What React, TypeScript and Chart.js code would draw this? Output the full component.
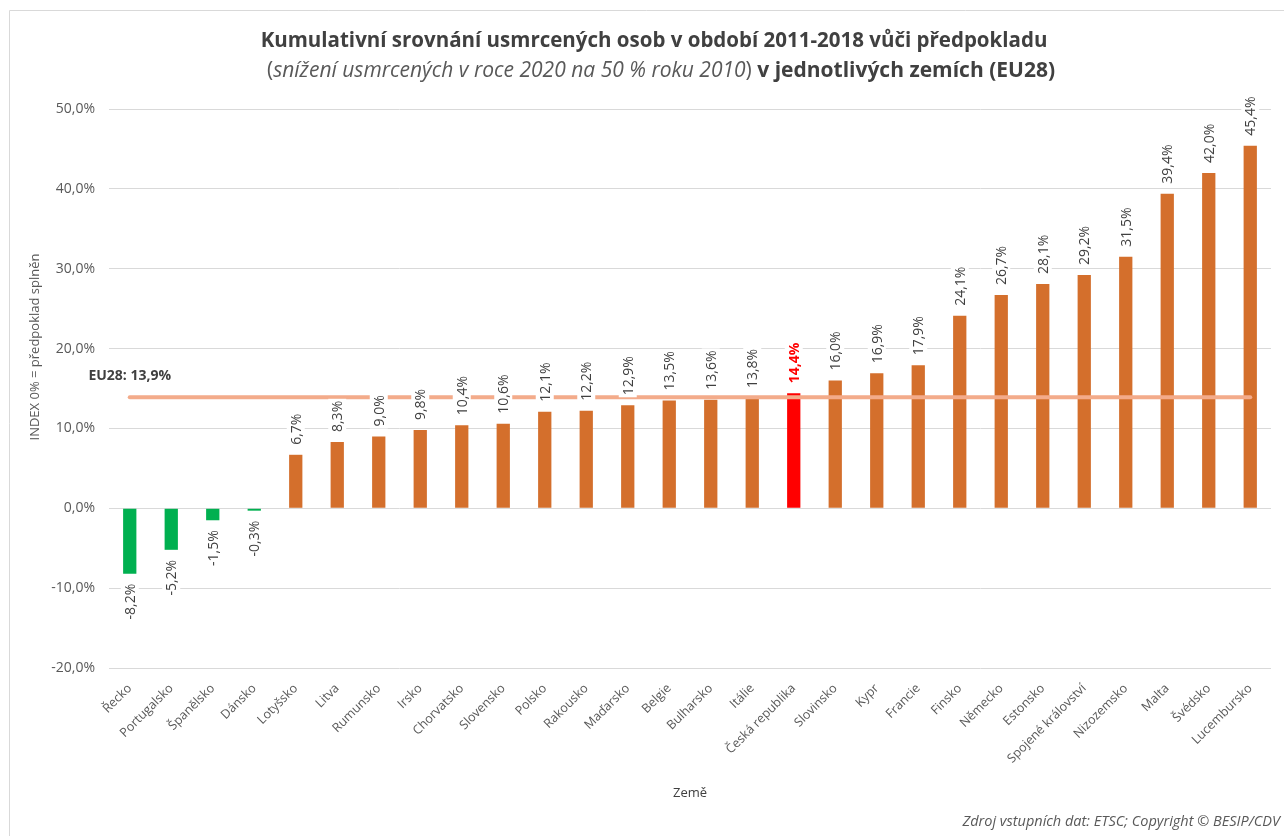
import React, { useEffect, useRef } from "react";
import { Chart, registerables } from "chart.js";

Chart.register(...registerables);

const categories = [
  "Řecko", "Portugalsko", "Španělsko", "Dánsko", "Lotyšsko", "Litva", "Rumunsko",
  "Irsko", "Chorvatsko", "Slovensko", "Polsko", "Rakousko", "Maďarsko", "Belgie",
  "Bulharsko", "Itálie", "Česká republika", "Slovinsko", "Kypr", "Francie", "Finsko",
  "Německo", "Estonsko", "Spojené království", "Nizozemsko", "Malta", "Švédsko", "Lucembursko",
];
const values = [
  -8.2, -5.2, -1.5, -0.3, 6.7, 8.3, 9.0, 9.8, 10.4, 10.6, 12.1, 12.2, 12.9, 13.5,
  13.6, 13.8, 14.4, 16.0, 16.9, 17.9, 24.1, 26.7, 28.1, 29.2, 31.5, 39.4, 42.0, 45.4,
];
const eu28Value = 13.9;
const eu28Label = "EU28";
const highlightCategory = "Česká republika";
const yMin = -20;
const yMax = 50;
const yStep = 10;

const titleLine1 = "Kumulativní srovnání usmrcených osob v období 2011-2018 vůči předpokladu";
const titleLine2Italic = "snížení usmrcených v roce 2020 na 50 % roku 2010";
const titleLine2Bold = " v jednotlivých zemích (EU28)";
const yAxisTitle = "INDEX 0% = předpoklad splněn";
const xAxisTitle = "Země";
const sourceText = "Zdroj vstupních dat: ETSC; Copyright © BESIP/CDV";

const FONT = '"Open Sans", "Noto Sans", sans-serif';
const COL_GREEN = "#00B050";
const COL_ORANGE = "#D46F2C";
const COL_RED = "#FF0000";
const COL_LINE = "#F3AB8A";
const COL_TEXT = "#404040";
const COL_AXIS = "#595959";
const COL_GRID = "#D9D9D9";

const fmt = (v: number) => v.toFixed(1).replace(".", ",") + "%";

const barColor = (v: number, i: number) =>
  categories[i] === highlightCategory ? COL_RED : v < 0 ? COL_GREEN : COL_ORANGE;

const labelsPlugin = {
  id: "valueLabels",
  afterDatasetsDraw(chart: any) {
    const ctx = chart.ctx;
    const barMeta = chart.getDatasetMeta(0);
    ctx.save();
    barMeta.data.forEach((el: any, i: number) => {
      const v = values[i];
      const isHi = categories[i] === highlightCategory;
      const text = fmt(v);
      ctx.font = `${isHi ? "bold " : ""}14px ${FONT}`;
      const w = ctx.measureText(text).width;
      const h = 18;
      ctx.save();
      const gap = 10;
      if (v >= 0) {
        ctx.translate(el.x, el.y - gap);
        ctx.rotate(-Math.PI / 2);
        ctx.fillStyle = "#ffffff";
        ctx.fillRect(-2, -h / 2, w + 4, h);
        ctx.fillStyle = isHi ? COL_RED : COL_TEXT;
        ctx.textAlign = "left";
      } else {
        ctx.translate(el.x, el.y + gap);
        ctx.rotate(-Math.PI / 2);
        ctx.fillStyle = "#ffffff";
        ctx.fillRect(-w - 2, -h / 2, w + 4, h);
        ctx.fillStyle = COL_TEXT;
        ctx.textAlign = "right";
      }
      ctx.textBaseline = "middle";
      ctx.fillText(text, 0, 1);
      ctx.restore();
    });
    const lineMeta = chart.getDatasetMeta(1);
    const p0 = lineMeta.data[0];
    if (p0) {
      ctx.font = `bold 14px ${FONT}`;
      ctx.fillStyle = COL_TEXT;
      ctx.textAlign = "center";
      ctx.textBaseline = "middle";
      ctx.fillText(`${eu28Label}: ${fmt(eu28Value)}`, p0.x, p0.y - 21);
    }
    ctx.restore();
  },
};

const decorPlugin = {
  id: "decor",
  afterDraw(chart: any) {
    const ctx = chart.ctx;
    const area = chart.chartArea;
    ctx.save();
    // outer border
    ctx.strokeStyle = COL_GRID;
    ctx.lineWidth = 1;
    ctx.beginPath();
    ctx.moveTo(9.5, chart.height);
    ctx.lineTo(9.5, 10.5);
    ctx.lineTo(chart.width, 10.5);
    ctx.stroke();

    // title
    ctx.textBaseline = "middle";
    ctx.fillStyle = COL_TEXT;
    ctx.textAlign = "center";
    ctx.font = `bold 20.5px ${FONT}`;
    ctx.fillText(titleLine1, 654, 41);

    const segs = [
      { t: "(", f: `21px ${FONT}`, c: COL_AXIS },
      { t: titleLine2Italic, f: `italic 21px ${FONT}`, c: COL_AXIS },
      { t: ")", f: `21px ${FONT}`, c: COL_AXIS },
      { t: titleLine2Bold, f: `bold 21px ${FONT}`, c: COL_TEXT },
    ];
    let total = 0;
    segs.forEach((s) => {
      ctx.font = s.f;
      total += ctx.measureText(s.t).width;
    });
    let x = 661 - total / 2;
    ctx.textAlign = "left";
    segs.forEach((s) => {
      ctx.font = s.f;
      ctx.fillStyle = s.c;
      ctx.fillText(s.t, x, 71);
      x += ctx.measureText(s.t).width;
    });

    // y axis title
    ctx.save();
    ctx.translate(35, 347);
    ctx.rotate(-Math.PI / 2);
    ctx.textAlign = "center";
    ctx.font = `13px ${FONT}`;
    ctx.fillStyle = COL_AXIS;
    ctx.fillText(yAxisTitle, 0, 0);
    ctx.restore();

    // x axis title
    ctx.textAlign = "center";
    ctx.font = `13px ${FONT}`;
    ctx.fillStyle = COL_TEXT;
    ctx.fillText(xAxisTitle, (area.left + area.right) / 2, 793);

    // source
    ctx.textAlign = "right";
    ctx.font = `italic 14.5px ${FONT}`;
    ctx.fillStyle = COL_AXIS;
    ctx.fillText(sourceText, 1280, 822);
    ctx.restore();
  },
};

export default function App() {
  const ref = useRef<HTMLCanvasElement | null>(null);
  useEffect(() => {
    document.body.style.margin = "0";
    const canvas = ref.current;
    if (!canvas) return;
    const chart = new Chart(canvas, {
      type: "bar",
      data: {
        labels: categories,
        datasets: [
          {
            type: "bar",
            data: values,
            backgroundColor: values.map(barColor),
            barPercentage: 0.8,
            categoryPercentage: 0.4,
            order: 2,
          } as any,
          {
            type: "line",
            data: categories.map(() => eu28Value),
            borderColor: COL_LINE,
            borderWidth: 4,
            pointRadius: 0,
            borderCapStyle: "round",
            fill: false,
            order: 1,
          } as any,
        ],
      },
      options: {
        animation: false,
        responsive: true,
        maintainAspectRatio: false,
        layout: { padding: { left: 0, top: 109, right: 13, bottom: 0 } },
        plugins: {
          legend: { display: false },
          tooltip: { enabled: false },
          title: { display: false },
        },
        scales: {
          x: {
            grid: { display: false, drawTicks: false },
            border: { display: false },
            ticks: {
              autoSkip: false,
              maxRotation: 45,
              minRotation: 45,
              padding: 13,
              color: COL_AXIS,
              font: { family: FONT, size: 12.5 },
            },
            afterFit(scale: any) {
              scale.height = 168;
            },
          },
          y: {
            min: yMin,
            max: yMax,
            grid: { color: COL_GRID, drawTicks: false, lineWidth: 1 },
            border: { display: false },
            ticks: {
              stepSize: yStep,
              padding: 14,
              color: COL_AXIS,
              font: { family: FONT, size: 14 },
              callback: (v: any) => fmt(Number(v)),
            },
            afterFit(scale: any) {
              scale.width = 109;
            },
          },
        },
      },
      plugins: [labelsPlugin, decorPlugin],
    });
    return () => chart.destroy();
  }, []);
  return (
    <div style={{ position: "relative", width: 1284, height: 836, background: "#fff" }}>
      <canvas ref={ref} />
    </div>
  );
}
